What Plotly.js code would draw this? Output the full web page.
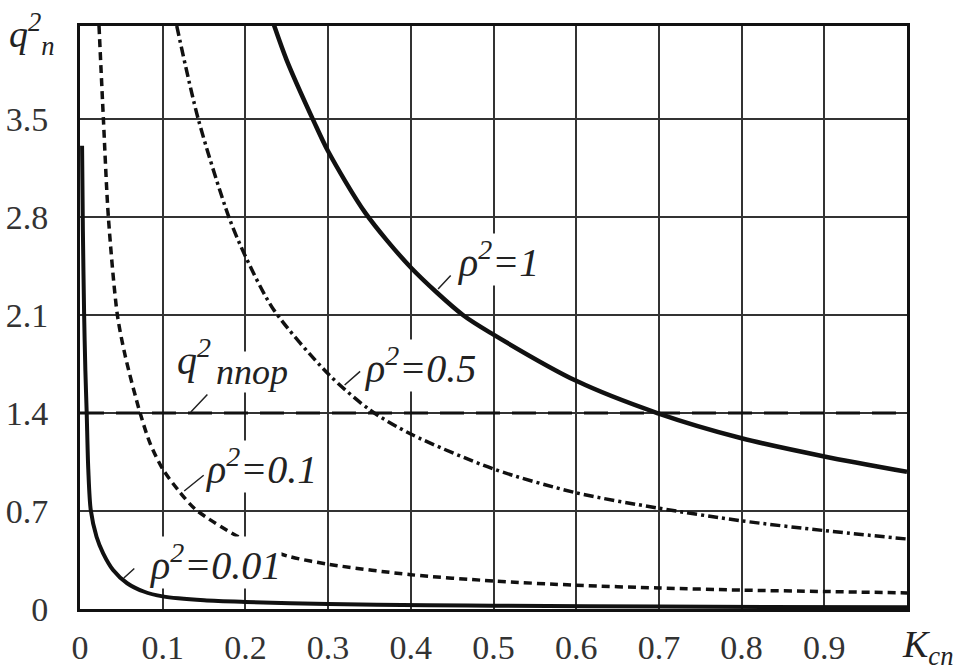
<!DOCTYPE html>
<html>
<head>
<meta charset="utf-8">
<script src="https://cdn.plot.ly/plotly-3.0.1.min.js"></script>
<style>html,body{margin:0;padding:0;background:#fff;}#chart{width:958px;height:670px;}</style>
</head>
<body>
<div id="chart"></div>
<script>
// ρ² = 1 (solid)
const rho1X = [0.23, 0.25, 0.283, 0.30, 0.345, 0.40, 0.463, 0.50, 0.60, 0.698, 0.80, 0.90, 1.00];
const rho1Y = [4.25, 3.92, 3.48, 3.27, 2.83, 2.44, 2.10, 1.96, 1.63, 1.40, 1.22, 1.09, 0.98];
// ρ² = 0.5 (dash-dot)
const rho05X = [0.117, 0.143, 0.18, 0.20, 0.234, 0.30, 0.351, 0.40, 0.50, 0.60, 0.70, 0.80, 0.90, 1.00];
const rho05Y = [4.165, 3.50, 2.80, 2.52, 2.14, 1.68, 1.42, 1.25, 1.00, 0.83, 0.72, 0.63, 0.56, 0.50];
// ρ² = 0.1 (dashed)
const rho01X = [0.023, 0.0283, 0.0343, 0.0452, 0.055, 0.0727, 0.085, 0.10, 0.12, 0.14, 0.20, 0.25, 0.30, 0.40, 0.50, 0.60, 0.70, 0.80, 0.90, 1.00];
const rho01Y = [4.165, 3.50, 2.80, 2.10, 1.80, 1.40, 1.18, 1.00, 0.84, 0.71, 0.49, 0.38, 0.32, 0.245, 0.20, 0.17, 0.15, 0.135, 0.125, 0.115];
// ρ² = 0.01 (solid)
const rho001X = [0.0025, 0.0035, 0.005, 0.0065, 0.0081, 0.010, 0.013, 0.020, 0.028, 0.040, 0.057, 0.077, 0.10, 0.15, 0.20, 0.30, 0.42, 0.50, 0.70, 1.00];
const rho001Y = [3.31, 2.70, 2.10, 1.70, 1.40, 1.00, 0.707, 0.516, 0.398, 0.279, 0.184, 0.125, 0.09, 0.062, 0.05, 0.036, 0.027, 0.023, 0.017, 0.012];
// threshold q²_п пор
const thrX = [0, 1.0];
const thrY = [1.4, 1.4];

const xTickVals = [0, 0.1, 0.2, 0.3, 0.4, 0.5, 0.6, 0.7, 0.8, 0.9];
const xTickText = ['0', '0.1', '0.2', '0.3', '0.4', '0.5', '0.6', '0.7', '0.8', '0.9'];
const yTickVals = [0, 0.7, 1.4, 2.1, 2.8, 3.5];
const yTickText = ['0', '0.7', '1.4', '2.1', '2.8', '3.5'];

const lbl1 = 'ρ<sup>2</sup>=1';
const lbl05 = 'ρ<sup>2</sup>=0.5';
const lbl01 = 'ρ<sup>2</sup>=0.1';
const lbl001 = 'ρ<sup>2</sup>=0.01';
const lblThrMain = 'q<sup>2</sup>';
const lblThrSub = 'ппор';
const xTitle = 'K<sub>сп</sub>';
const yTitle = 'q<sup>2</sup><sub>п</sub>';

const ink = '#111';
const traces = [
  {x: thrX, y: thrY, mode: 'lines', line: {color: ink, width: 3, dash: '24px,12px'}},
  {x: rho001X, y: rho001Y, mode: 'lines', line: {color: ink, width: 4, shape: 'spline', smoothing: 0.8}},
  {x: rho01X, y: rho01Y, mode: 'lines', line: {color: ink, width: 3.5, dash: '8px,5px', shape: 'spline', smoothing: 0.8}},
  {x: rho05X, y: rho05Y, mode: 'lines', line: {color: ink, width: 3.5, dash: '10px,4px,3px,4px', shape: 'spline', smoothing: 0.8}},
  {x: rho1X, y: rho1Y, mode: 'lines', line: {color: ink, width: 4.5, shape: 'spline', smoothing: 0.8}}
];

const lf = {family: 'Liberation Serif', size: 40, color: '#222', style: 'italic'};
function label(text, x, y, size) {
  return {text: text, x: x, y: y, xref: 'x', yref: 'y', xanchor: 'left', yanchor: 'middle',
          showarrow: false, font: Object.assign({}, lf, size ? {size: size} : {}), bgcolor: '#fff', borderpad: 0};
}
function leader(x, y, ax, ay) {
  return {text: '', x: x, y: y, xref: 'x', yref: 'y', ax: ax, ay: ay, showarrow: true,
          arrowhead: 0, arrowwidth: 1.5, arrowcolor: '#222', standoff: 0, startstandoff: 0};
}

const annotations = [
  label(lbl1, 0.455, 2.50),
  label(lblThrMain, 0.116, 1.80),
  label(lblThrSub, 0.163, 1.69, 36),
  label(lbl05, 0.342, 1.74),
  label(lbl01, 0.150, 1.02),
  label(lbl001, 0.082, 0.33),
  leader(0.433, 2.286, 14, -15),
  leader(0.134, 1.407, 18, -19),
  leader(0.320, 1.60, 17, -15),
  leader(0.126, 0.843, 21, -17),
  leader(0.053, 0.221, 12, -11),
  {text: xTitle, xref: 'paper', yref: 'paper', x: 1.058, y: -0.02, xanchor: 'right', yanchor: 'top',
   showarrow: false, font: {family: 'Liberation Serif', size: 38, color: '#222', style: 'italic'}},
  {text: yTitle, xref: 'paper', yref: 'paper', x: -0.088, y: 1.036, xanchor: 'left', yanchor: 'top',
   showarrow: false, font: {family: 'Liberation Serif', size: 38, color: '#222', style: 'italic'}}
];

const layout = {
  width: 958, height: 670,
  margin: {l: 80, r: 51, t: 26, b: 61},
  paper_bgcolor: '#fff', plot_bgcolor: '#fff',
  showlegend: false,
  font: {family: 'Liberation Serif', size: 34, color: '#222'},
  xaxis: {range: [0, 1.0], tickvals: xTickVals, ticktext: xTickText, showgrid: true, gridcolor: '#333', gridwidth: 2,
          zeroline: false, showline: true, linecolor: '#111', linewidth: 3, mirror: true, ticks: '',
          ticklabelstandoff: 6, tickfont: {family: 'Liberation Serif', size: 34, color: '#333'}},
  yaxis: {range: [0, 4.165], tickvals: yTickVals, ticktext: yTickText, showgrid: true, gridcolor: '#333', gridwidth: 2,
          zeroline: false, showline: true, linecolor: '#111', linewidth: 3, mirror: true, ticks: '',
          ticklabelstandoff: 22, tickfont: {family: 'Liberation Serif', size: 34, color: '#333'}},
  annotations: annotations
};

Plotly.newPlot('chart', traces, layout, {staticPlot: true, displayModeBar: false});
</script>
</body>
</html>
